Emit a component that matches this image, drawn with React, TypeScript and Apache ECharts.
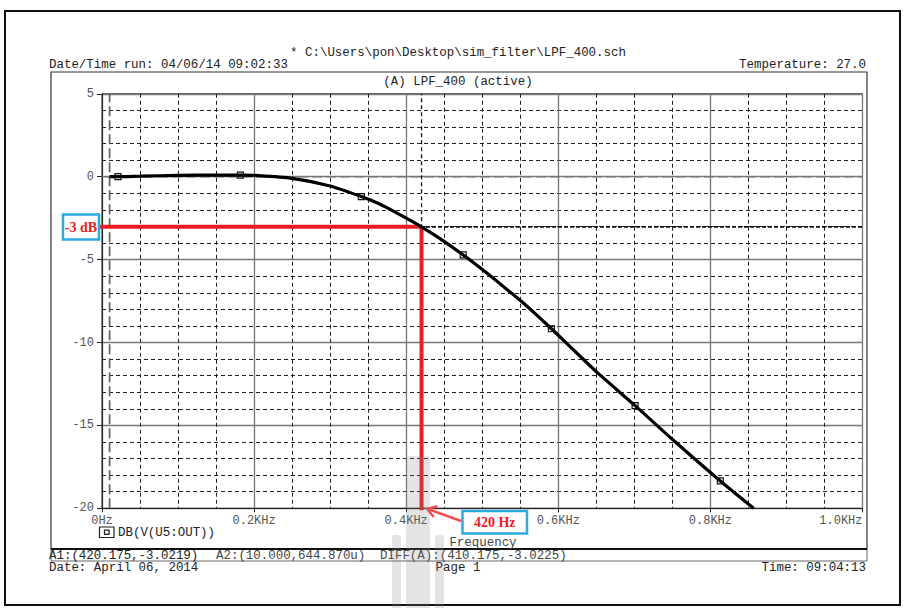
import React, { useEffect, useRef } from 'react';
import * as echarts from 'echarts';

// Frequency response of the LPF_400 output, DB(V(U5:OUT))
const FREQ_HZ = [10, 21, 50, 100, 150, 182, 200, 250, 300, 341, 365, 388, 420, 444, 475, 501, 528, 554, 580, 591, 611, 650, 701, 751, 813, 857];
const GAIN_DB = [0, 0, 0.03, 0.08, 0.1, 0.1, 0.08, -0.1, -0.56, -1.2, -1.65, -2.2, -3.02, -3.72, -4.72, -5.63, -6.63, -7.62, -8.7, -9.17, -10.05, -11.76, -13.81, -15.88, -18.35, -20.0];
// trace marker positions (squares drawn on the trace)
const MARKER_HZ = [21, 182, 341, 475, 591, 701, 813];

// axis ranges
const X_MIN = 0;
const X_MAX = 1000;
const X_STEP = 200;
const Y_MIN = -20;
const Y_MAX = 5;
const Y_STEP = 5;

// cursor readouts
const CURSOR_A1 = [420.175, -3.0219];
const CURSOR_A2 = [10.0, 0.00064487];
const CURSOR_DIFF = [410.175, -3.0225];

// page texts
const HEADER_PATH = '* C:\\Users\\pon\\Desktop\\sim_filter\\LPF_400.sch';
const RUN_STAMP = 'Date/Time run: 04/06/14 09:02:33';
const TEMPERATURE = 'Temperature: 27.0';
const SECTION_TITLE = '(A) LPF_400 (active)';
const TRACE_NAME = 'DB(V(U5:OUT))';
const X_AXIS_NAME = 'Frequency';
const FOOTER_DATE = 'Date: April 06, 2014';
const FOOTER_PAGE = 'Page 1';
const FOOTER_TIME = 'Time: 09:04:13';

const MONO = '"Liberation Mono", "DejaVu Sans Mono", monospace';
const SERIF = '"Liberation Serif", "DejaVu Serif", serif';
const RED = '#ed1c24';
const BLUE = '#29abe2';

function monoText(text: string, x: number, y: number, align: string, color = '#222') {
  return {
    type: 'text',
    z: 20,
    silent: true,
    style: {
      text,
      x,
      y,
      fill: color,
      fontFamily: MONO,
      fontSize: 12.45,
      lineHeight: 10,
      align,
      textAlign: align,
      verticalAlign: 'middle',
      textVerticalAlign: 'middle',
    },
  };
}

function callout(text: string, x: number, y: number, w: number, h: number) {
  return [
    {
      type: 'rect',
      z: 40,
      silent: true,
      shape: { x, y, width: w, height: h },
      style: { fill: '#fff', stroke: BLUE, lineWidth: 2.5 },
    },
    {
      type: 'text',
      z: 41,
      silent: true,
      style: {
        text,
        x: x + w / 2,
        y: y + h / 2 + 0.5,
        fill: RED,
        fontFamily: SERIF,
        fontWeight: 'bold',
        fontSize: 14,
        align: 'center',
        textAlign: 'center',
        verticalAlign: 'middle',
        textVerticalAlign: 'middle',
      },
    },
  ];
}

export default function App() {
  const ref = useRef<HTMLDivElement>(null);

  useEffect(() => {
    document.body.style.margin = '0';
    const chart = echarts.init(ref.current!, null, { renderer: 'svg' });

    const traceData = FREQ_HZ.map((f, i) =>
      MARKER_HZ.includes(f)
        ? { value: [f, GAIN_DB[i]], symbol: 'rect', symbolSize: 6 }
        : { value: [f, GAIN_DB[i]], symbol: 'none' }
    );

    const fmtA2y = (CURSOR_A2[1] * 1e6).toFixed(3) + 'u';
    const a1Text = `A1:(${CURSOR_A1[0].toFixed(3)},${CURSOR_A1[1].toFixed(4)})`;
    const a2Text = `A2:(${CURSOR_A2[0].toFixed(3)},${fmtA2y})`;
    const diffText = `DIFF(A):(${CURSOR_DIFF[0].toFixed(3)},${CURSOR_DIFF[1].toFixed(4)})`;

    const option: any = {
      animation: false,
      backgroundColor: '#fff',
      grid: {
        left: 102,
        right: 44.5,
        top: 93.8,
        bottom: 99.7,
        show: true,
        borderColor: '#222',
        borderWidth: 1,
        backgroundColor: 'transparent',
      },
      xAxis: {
        type: 'value',
        min: X_MIN,
        max: X_MAX,
        interval: X_STEP,
        axisLine: { show: true, onZero: false, lineStyle: { color: '#222', width: 1 } },
        axisTick: { show: true, length: 4, lineStyle: { color: '#222' } },
        axisLabel: {
          color: '#555',
          fontFamily: MONO,
          fontSize: 12,
          margin: 7,
          alignMaxLabel: 'right',
          formatter: (v: number) => (v === 0 ? '0Hz' : (v / 1000).toFixed(1) + 'KHz'),
        },
        splitLine: { show: true, lineStyle: { color: '#777', width: 1.3 } },
        minorTick: { show: false, splitNumber: 4 },
        minorSplitLine: { show: true, lineStyle: { color: '#222', width: 1, type: [4, 3] } },
      },
      yAxis: {
        type: 'value',
        min: Y_MIN,
        max: Y_MAX,
        interval: Y_STEP,
        axisLine: { show: true, onZero: false, lineStyle: { color: '#222', width: 1 } },
        axisTick: { show: true, length: 5, lineStyle: { color: '#222' } },
        axisLabel: { color: '#555', fontFamily: MONO, fontSize: 12, margin: 8 },
        splitLine: { show: true, lineStyle: { color: '#777', width: 1.3 } },
        minorTick: { show: false, splitNumber: 5 },
        minorSplitLine: { show: true, lineStyle: { color: '#222', width: 1, type: [4, 3] } },
      },
      series: [
        // cursor A2 crosshair
        {
          type: 'line',
          silent: true,
          symbol: 'none',
          data: [[CURSOR_A2[0], Y_MIN], [CURSOR_A2[0], Y_MAX]],
          lineStyle: { color: '#666', width: 1.8, type: [10, 4] },
          z: 2,
        },
        {
          type: 'line',
          silent: true,
          symbol: 'none',
          data: [[X_MIN, CURSOR_A2[1]], [X_MAX, CURSOR_A2[1]]],
          lineStyle: { color: '#777', width: 1.6, type: [10, 4] },
          z: 2,
        },
        // cursor A1 crosshair
        {
          type: 'line',
          silent: true,
          symbol: 'none',
          data: [[CURSOR_A1[0], Y_MIN], [CURSOR_A1[0], Y_MAX]],
          lineStyle: { color: '#111', width: 1.3, type: [4, 3] },
          z: 2,
        },
        {
          type: 'line',
          silent: true,
          symbol: 'none',
          data: [[X_MIN, CURSOR_A1[1]], [X_MAX, CURSOR_A1[1]]],
          lineStyle: { color: '#111', width: 1.8, type: [4, 2] },
          z: 2,
        },
        // -3 dB / 420 Hz guide
        {
          type: 'line',
          silent: true,
          symbol: 'none',
          data: [[X_MIN - 3, CURSOR_A1[1]], [CURSOR_A1[0], CURSOR_A1[1]], [CURSOR_A1[0], Y_MIN]],
          lineStyle: { color: RED, width: 4, cap: 'square' },
          clip: false,
          z: 3,
        },
        // trace
        {
          type: 'line',
          name: TRACE_NAME,
          silent: true,
          smooth: 0.25,
          data: traceData,
          lineStyle: { color: '#000', width: 3.2 },
          itemStyle: { color: 'rgba(255,255,255,0)', borderColor: '#111', borderWidth: 1.2 },
          z: 4,
        },
      ],
      graphic: {
        elements: [
          // page frame
          {
            type: 'rect',
            silent: true,
            z: 10,
            shape: { x: 5, y: 11, width: 895, height: 594 },
            style: { fill: 'none', stroke: '#111', lineWidth: 2 },
          },
          // plot window frame
          {
            type: 'rect',
            silent: true,
            z: 10,
            shape: { x: 51, y: 72, width: 816, height: 477 },
            style: { fill: 'none', stroke: '#333', lineWidth: 1.2 },
          },
          // cursor readout strip
          {
            type: 'rect',
            silent: true,
            z: 10,
            shape: { x: 51, y: 549, width: 816, height: 12 },
            style: { fill: 'none', stroke: '#666', lineWidth: 1 },
          },
          {
            type: 'line',
            silent: true,
            z: 11,
            shape: { x1: 51, y1: 549, x2: 867, y2: 549 },
            style: { stroke: '#111', lineWidth: 2 },
          },
          monoText(HEADER_PATH, 458, 53, 'center'),
          monoText(RUN_STAMP, 49, 64.5, 'left'),
          monoText(TEMPERATURE, 866, 64.5, 'right'),
          monoText(SECTION_TITLE, 458, 82, 'center'),
          // legend entry
          {
            type: 'rect',
            silent: true,
            z: 20,
            shape: { x: 99.5, y: 527, width: 14.5, height: 10.5 },
            style: { fill: '#fff', stroke: '#222', lineWidth: 1.2 },
          },
          {
            type: 'rect',
            silent: true,
            z: 21,
            shape: { x: 104.5, y: 530.2, width: 4.5, height: 4.2 },
            style: { fill: 'none', stroke: '#222', lineWidth: 1.3 },
          },
          monoText(TRACE_NAME, 118, 532.5, 'left'),
          monoText(X_AXIS_NAME, 483, 542.5, 'center', '#444'),
          monoText(a1Text, 49, 555.5, 'left'),
          monoText(a2Text, 216, 555.5, 'left', '#444'),
          monoText(diffText, 380, 555.5, 'left', '#444'),
          monoText(FOOTER_DATE, 49, 568, 'left'),
          monoText(FOOTER_PAGE, 458, 568, 'center'),
          monoText(FOOTER_TIME, 866, 568, 'right'),
          // callouts
          ...callout(`${Math.round(CURSOR_A1[1])} dB`, 63, 214.5, 36, 25),
          ...callout(`${Math.round(CURSOR_A1[0])} Hz`, 462.5, 511, 64.5, 22.5),
          // arrow from the frequency callout to the cursor foot
          {
            type: 'line',
            silent: true,
            z: 42,
            shape: { x1: 461, y1: 521, x2: 428, y2: 509 },
            style: { stroke: '#f05050', lineWidth: 2.5 },
          },
          {
            type: 'polyline',
            silent: true,
            z: 42,
            shape: { points: [[437.5, 506.2], [427, 508.8], [433.8, 517]] },
            style: { fill: 'none', stroke: '#f05050', lineWidth: 2.5 },
          },
          // faint watermark bars
          {
            type: 'rect',
            silent: true,
            z: 60,
            shape: { x: 406, y: 456, width: 24, height: 152, r: [3, 3, 0, 0] },
            style: { fill: 'rgba(130,130,130,0.22)' },
          },
          {
            type: 'rect',
            silent: true,
            z: 60,
            shape: { x: 392, y: 535, width: 9, height: 73, r: [3, 3, 0, 0] },
            style: { fill: 'rgba(130,130,130,0.22)' },
          },
          {
            type: 'rect',
            silent: true,
            z: 60,
            shape: { x: 435, y: 535, width: 9, height: 73, r: [3, 3, 0, 0] },
            style: { fill: 'rgba(130,130,130,0.22)' },
          },
        ],
      },
    };

    chart.setOption(option);
    return () => chart.dispose();
  }, []);

  return <div ref={ref} style={{ width: 907, height: 608, background: '#fff' }} />;
}
